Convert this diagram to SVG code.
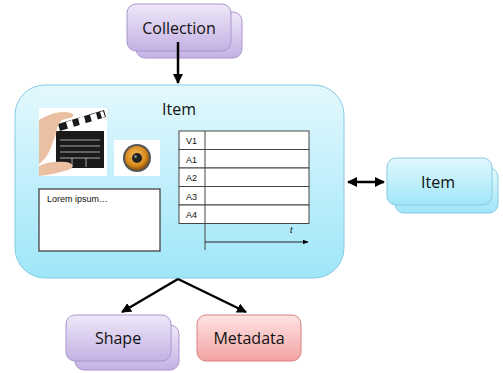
<svg xmlns="http://www.w3.org/2000/svg" width="503" height="373" viewBox="0 0 503 373">
<defs>
<linearGradient id="gBlue" x1="0" y1="0" x2="0" y2="1"><stop offset="0" stop-color="#e3f8fd"/><stop offset="1" stop-color="#9fe6f9"/></linearGradient>
<linearGradient id="gPurple" x1="0" y1="0" x2="0" y2="1"><stop offset="0" stop-color="#efe8f8"/><stop offset="1" stop-color="#c3b1e4"/></linearGradient>
<linearGradient id="gRed" x1="0" y1="0" x2="0" y2="1"><stop offset="0" stop-color="#fde3e3"/><stop offset="1" stop-color="#f4a3a3"/></linearGradient>
<radialGradient id="gSpk" cx="0.45" cy="0.4" r="0.6"><stop offset="0" stop-color="#f7c060"/><stop offset="0.7" stop-color="#d98a1c"/><stop offset="1" stop-color="#8a5210"/></radialGradient>
<marker id="ah" viewBox="0 0 10 10" refX="9" refY="5" markerWidth="4" markerHeight="4" orient="auto-start-reverse"><path d="M0,0 L10,5 L0,10 z" fill="#000"/></marker>
<marker id="ahs" viewBox="0 0 10 10" refX="9" refY="5" markerWidth="6" markerHeight="6" orient="auto"><path d="M0,1 L10,5 L0,9 z" fill="#000"/></marker>
</defs>
<style>
.blue{fill:url(#gBlue);stroke:#86cbe3;stroke-width:1}
.purple{fill:url(#gPurple);stroke:#a996cf;stroke-width:1}
.red{fill:url(#gRed);stroke:#d98080;stroke-width:1}
.lbl{font-family:"Open Sans","Liberation Sans",Arial,sans-serif;font-size:16px;fill:#111;text-anchor:middle}
.small{font-family:"Liberation Sans",Arial,sans-serif;font-size:9px;fill:#111}
.conn{stroke:#000;stroke-width:2.5;fill:none}
.cell{fill:#fff;stroke:#444;stroke-width:1}
</style>

<g id="collection">
<rect class="purple" x="136" y="12" width="106" height="46" rx="9"/>
<rect class="purple" x="127" y="4" width="104" height="47" rx="9"/>
<text class="lbl" x="179" y="34">Collection</text>
</g>

<g id="item-main">
<rect class="blue" x="15" y="85" width="329" height="193" rx="30"/>
<text class="lbl" x="179" y="115">Item</text>
<g id="clapper-image">
<rect x="39" y="108" width="68" height="68" fill="#fff"/>
<rect x="56" y="131" width="48" height="37" fill="#1a1a1a"/>
<polygon points="58,124 104,110 106,117 60,131" fill="#1a1a1a"/>
<g fill="#fff"><polygon points="66,122 72,120 74,127 68,129"/><polygon points="78,118 84,116 86,124 80,126"/><polygon points="90,115 96,113 98,120 92,122"/><polygon points="100,112 103,111 105,117 102,118"/></g>
<g stroke="#ccc" stroke-width="0.8"><line x1="60" y1="140" x2="100" y2="140"/><line x1="60" y1="146" x2="100" y2="146"/><line x1="60" y1="152" x2="100" y2="152"/><line x1="60" y1="158" x2="100" y2="158"/><line x1="72" y1="158" x2="72" y2="167"/><line x1="86" y1="158" x2="86" y2="167"/></g>
<path d="M39,120 C46,116 54,112 64,112 C74,112 76,116 70,118 L62,120 C58,124 57,128 56,134 L50,150 C46,158 42,162 39,164 z" fill="#ebbfa2"/>
<path d="M39,166 C46,162 56,161 66,162 C74,163 75,168 68,170 C60,172 50,175 39,176 z" fill="#ebbfa2"/>
</g>
<g id="speaker-image">
<rect x="114" y="140" width="46" height="36" fill="#fff"/>
<circle cx="137" cy="158" r="14" fill="#555"/>
<circle cx="137" cy="158" r="12" fill="url(#gSpk)"/>
<circle cx="137" cy="158" r="5" fill="#222"/>
<circle cx="135.5" cy="156.5" r="1.5" fill="#888"/>
</g>
<g id="text-box">
<rect x="39" y="189" width="121" height="62" fill="#fff" stroke="#444" stroke-width="1.3"/>
<text class="small" x="47" y="202" font-size="10">Lorem ipsum…</text>
</g>
<g id="timeline">
<rect class="cell" x="179" y="131" width="130" height="18.5"/>
<rect class="cell" x="179" y="149.5" width="130" height="18.5"/>
<rect class="cell" x="179" y="168" width="130" height="18.5"/>
<rect class="cell" x="179" y="186.5" width="130" height="18.5"/>
<rect class="cell" x="179" y="205" width="130" height="18.5"/>
<line x1="205" y1="131" x2="205" y2="250" stroke="#444" stroke-width="1"/>
<line x1="205" y1="242" x2="308" y2="242" stroke="#222" stroke-width="1" marker-end="url(#ahs)"/>
<text class="small" x="186" y="144">V1</text>
<text class="small" x="186" y="162.5">A1</text>
<text class="small" x="186" y="181">A2</text>
<text class="small" x="186" y="199.5">A3</text>
<text class="small" x="186" y="218">A4</text>
<text class="small" x="290" y="233" font-style="italic">t</text>
</g>
</g>

<g id="item-linked">
<rect class="blue" x="395" y="168" width="103" height="45" rx="9"/>
<rect class="blue" x="387" y="158" width="105" height="47" rx="9"/>
<text class="lbl" x="438" y="188">Item</text>
</g>

<g id="shape">
<rect class="purple" x="75" y="325" width="104" height="45" rx="9"/>
<rect class="purple" x="66" y="315" width="105" height="46" rx="9"/>
<text class="lbl" x="118" y="344">Shape</text>
</g>

<g id="metadata">
<rect class="red" x="197" y="315" width="104" height="46" rx="9"/>
<text class="lbl" x="249" y="344">Metadata</text>
</g>

<g id="connectors">
<line class="conn" x1="178" y1="42" x2="178" y2="83" marker-end="url(#ah)"/>
<line class="conn" x1="348" y1="182" x2="384" y2="182" marker-start="url(#ah)" marker-end="url(#ah)"/>
<line class="conn" x1="178" y1="279" x2="122" y2="312" marker-end="url(#ah)"/>
<line class="conn" x1="178" y1="279" x2="246" y2="312" marker-end="url(#ah)"/>
</g>
</svg>
